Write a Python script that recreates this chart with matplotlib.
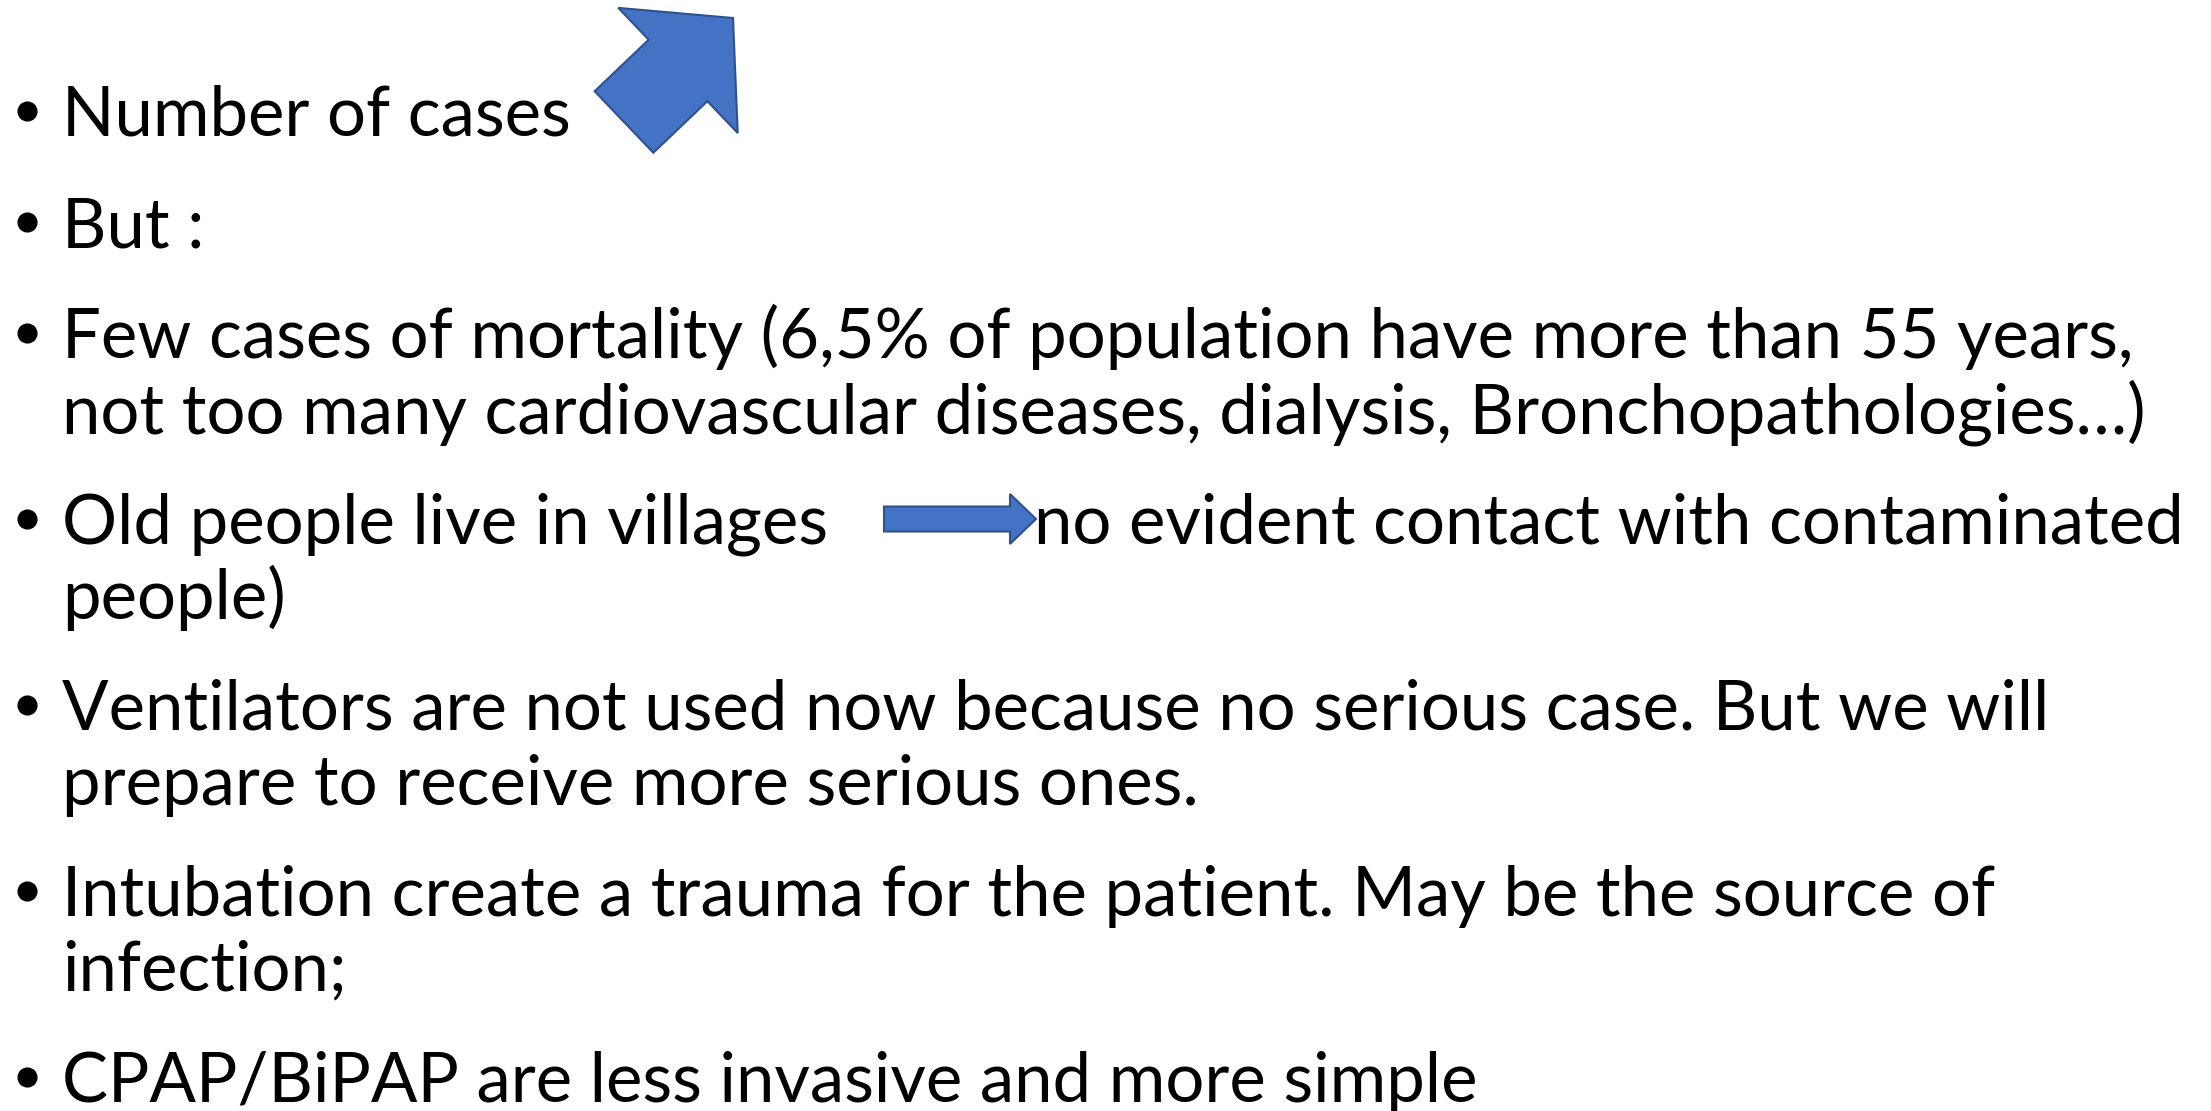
import matplotlib
matplotlib.use("Agg")
import matplotlib.pyplot as plt
from matplotlib.patches import FancyArrow

# slide text, one entry per bullet (lines as wrapped on the slide)
bullets = [
    ["Number of cases"],
    ["But :"],
    ["Few cases of mortality (6,5% of population have more than 55 years,",
     "not too many cardiovascular diseases, dialysis, Bronchopathologies\u2026)"],
    ["Old people live in villages", "people)"],
    ["Ventilators are not used now because no serious case. But we will",
     "prepare to receive more serious ones."],
    ["Intubation create a trauma for the patient. May be the source of",
     "infection;"],
    ["CPAP/BiPAP are less invasive and more simple"],
]
after_arrow = "no evident contact with contaminated"

W, H = 2211, 1111
first_base = 136
line_step = 75
para_step = 111
text_x = 62
bullet_x = 27
fill_blue = "#4472C4"
edge_blue = "#2F528F"
font = "Lato"

fig = plt.figure(figsize=(W / 100, H / 100), dpi=100)
ax = fig.add_axes([0, 0, 1, 1])
ax.set_xlim(0, W)
ax.set_ylim(H, 0)
ax.axis("off")

# pick a font size so the widest line spans the same width as on the slide
renderer = fig.canvas.get_renderer()
probe = ax.text(0, 0, bullets[2][0], fontsize=40, family=font)
w40 = probe.get_window_extent(renderer).width
probe.remove()
fs = 40 * (2134 - text_x) / w40

y = first_base
for i, lines in enumerate(bullets):
    if i > 0:
        y += para_step
    ax.plot(bullet_x, y - 25, marker="o", markersize=13.5, color="black",
            clip_on=False)
    for j, line in enumerate(lines):
        if j > 0:
            y += line_step
        ax.text(text_x, y, line, fontsize=fs, family=font, va="baseline")
        if i == 3 and j == 0:
            ax.text(1034, y, after_arrow, fontsize=fs, family=font, va="baseline")

# big block arrow next to "Number of cases"
ax.add_patch(FancyArrow(624, 122, 109, -104, width=85, head_width=173,
                        head_length=76, length_includes_head=True,
                        facecolor=fill_blue, edgecolor=edge_blue, linewidth=1.5))
# small arrow in the "Old people" line
ax.add_patch(FancyArrow(884, 519, 152, 0, width=25, head_width=50,
                        head_length=26, length_includes_head=True,
                        facecolor=fill_blue, edgecolor=edge_blue, linewidth=1.5))

fig.savefig("out.png", dpi=100, facecolor="white")
